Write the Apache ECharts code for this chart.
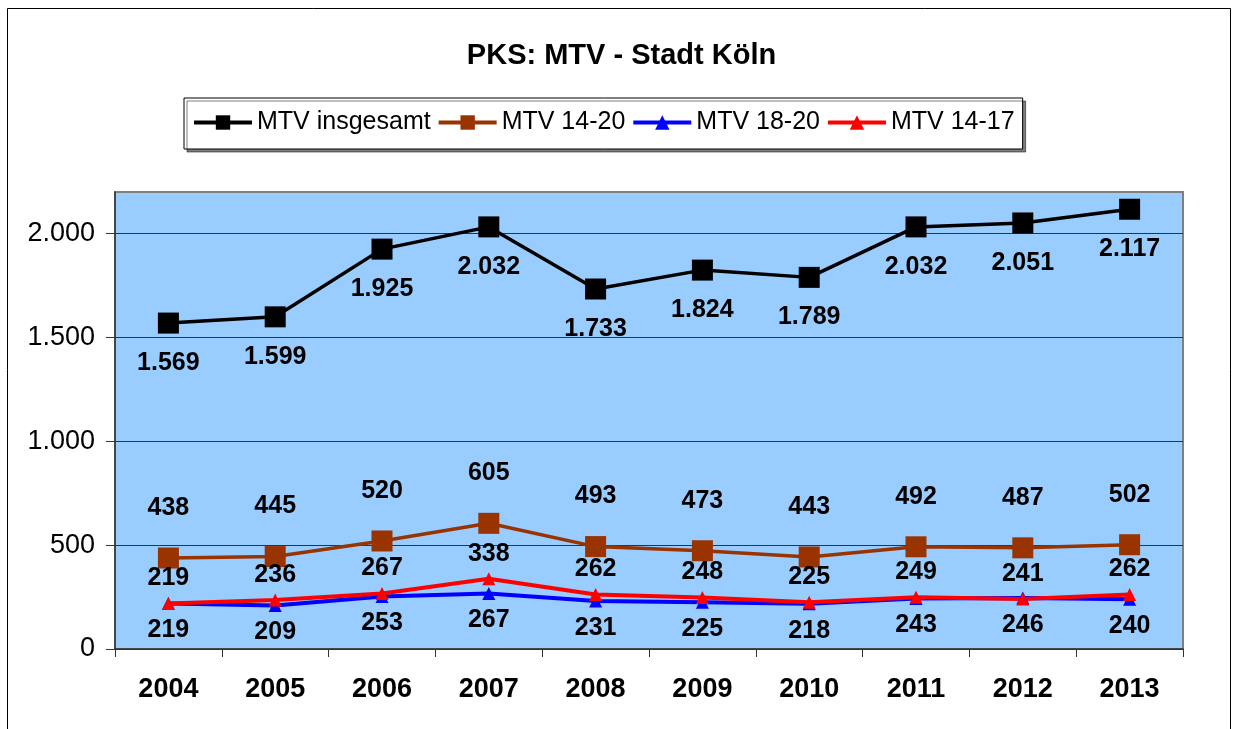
<!DOCTYPE html>
<html><head><meta charset="utf-8">
<script src="https://cdn.jsdelivr.net/npm/echarts@6/dist/echarts.min.js"></script>
<style>html,body{margin:0;padding:0;background:#fff;}#c{width:1243px;height:729px;}</style>
</head><body><div id="c"></div>
<script>
const years = ['2004','2005','2006','2007','2008','2009','2010','2011','2012','2013'];
const mtvTotal = [1569,1599,1925,2032,1733,1824,1789,2032,2051,2117];
const mtv1420 = [438,445,520,605,493,473,443,492,487,502];
const mtv1820 = [219,209,253,267,231,225,218,243,246,240];
const mtv1417 = [219,236,267,338,262,248,225,249,241,262];
const yTicks = [0,500,1000,1500,2000];

const FONT = '"Liberation Sans", Arial, sans-serif';
function fmt(v){ return String(v).replace(/\B(?=(\d{3})+(?!\d))/g,'.'); }

const chart = echarts.init(document.getElementById('c'));
function lbl(pos, dist){
  return {show:true, position:pos, distance:dist, color:'#000', fontFamily:FONT, fontWeight:'bold', fontSize:25,
    formatter: p => fmt(p.value)};
}
chart.setOption({
  backgroundColor:'#fff',
  animation:false,
  title:{text:'PKS: MTV - Stadt Köln', left:'center', top:36, textStyle:{fontFamily:FONT, fontWeight:'bold', fontSize:29, color:'#000'}},
  legend:{
    top:98, left:184, itemWidth:58, itemHeight:18, itemGap:6,
    padding:[12,8,14,8],
    backgroundColor:'#fff', borderColor:'#000', borderWidth:1,
    shadowColor:'rgba(0,0,0,0.5)', shadowOffsetX:3, shadowOffsetY:3, shadowBlur:0,
    lineStyle:{width:4},
    textStyle:{fontFamily:FONT, fontSize:25, color:'#000'},
    data:['MTV insgesamt','MTV 14-20','MTV 18-20','MTV 14-17']
  },
  graphic:[{type:'rect', shape:{x:7.5,y:8.5,width:1223,height:740}, style:{fill:null, stroke:'#000', lineWidth:1}, silent:true, z:-1}],
  grid:{left:115, right:60, top:192, bottom:80, show:true, backgroundColor:'#99CCFF', borderColor:'#808080', borderWidth:2},
  xAxis:{type:'category', data:years, boundaryGap:true,
    axisLine:{lineStyle:{color:'#333', width:1.5}},
    axisTick:{show:true, length:8, lineStyle:{color:'#333'}},
    axisLabel:{margin:27, color:'#000', fontFamily:FONT, fontWeight:'bold', fontSize:27}},
  yAxis:{type:'value', min:0, max:2200,
    axisLine:{show:true, lineStyle:{color:'#333', width:1.5}},
    axisTick:{show:true, length:9, lineStyle:{color:'#333'}, customValues:yTicks},
    splitLine:{lineStyle:{color:'#333', width:1}},
    axisLabel:{margin:20, color:'#000', fontFamily:FONT, fontSize:27, customValues:yTicks,
      formatter: v => yTicks.indexOf(v) >= 0 ? fmt(v) : ''}},
  series:[
    {name:'MTV insgesamt', type:'line', data:mtvTotal, symbol:'rect', symbolSize:21,
      itemStyle:{color:'#000'}, lineStyle:{color:'#000', width:3.5}, label:lbl('bottom',17)},
    {name:'MTV 14-20', type:'line', data:mtv1420, symbol:'rect', symbolSize:21,
      itemStyle:{color:'#993300'}, lineStyle:{color:'#993300', width:3.5}, label:lbl('top',27)},
    {name:'MTV 18-20', type:'line', data:mtv1820, symbol:'triangle', symbolSize:13,
      itemStyle:{color:'#0000FF'}, lineStyle:{color:'#0000FF', width:4}, label:lbl('bottom',8)},
    {name:'MTV 14-17', type:'line', data:mtv1417, symbol:'triangle', symbolSize:13,
      itemStyle:{color:'#FF0000'}, lineStyle:{color:'#FF0000', width:4}, label:lbl('top',6)}
  ]
});
</script></body></html>
